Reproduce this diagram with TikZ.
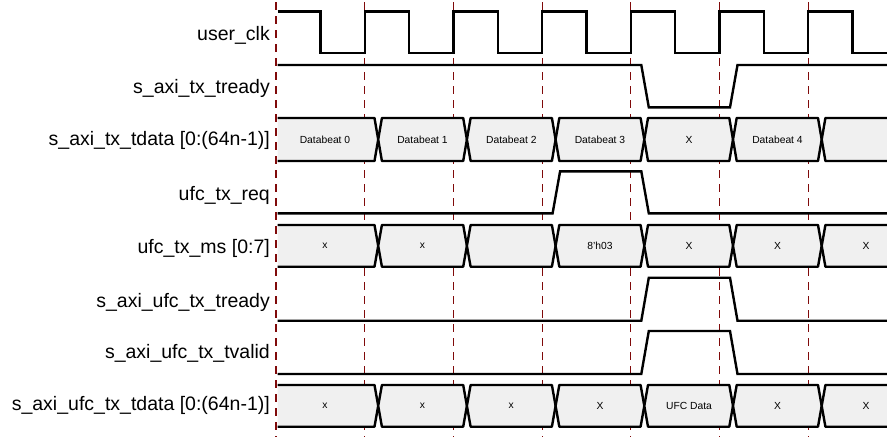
\documentclass[tikz,border=0pt]{standalone}
\usepackage{fontspec}
\setmainfont{Liberation Sans}
\definecolor{busgray}{RGB}{240,240,240}
\definecolor{gridred}{RGB}{128,10,10}
\newcommand\busrow[2]{%
  \pgfmathsetmacro\bm{(#1+#2)/2}%
  \filldraw[bus] (277.7,#1) -- (374.5,#1) -- (378.2,\bm) -- (374.5,#2) -- (277.7,#2);
  \foreach \a/\b in {378.2/466.9, 466.9/555.6, 555.6/644.3, 644.3/733, 733/821.7}
    \filldraw[bus] (\a,\bm) -- (\a+3.7,#1) -- (\b-3.7,#1) -- (\b,\bm) -- (\b-3.7,#2) -- (\a+3.7,#2) -- cycle;
  \filldraw[bus] (887,#1) -- (825.4,#1) -- (821.7,\bm) -- (825.4,#2) -- (887,#2);
}
\begin{document}
\begin{tikzpicture}[x=1pt,y=-1pt,
  sig/.style={line width=2.4pt, line join=miter, draw=black},
  bus/.style={line width=2.4pt, fill=busgray, draw=black, line join=round},
  gridline/.style={draw=gridred, line width=1.2pt, dash pattern=on 8pt off 6pt},
  lbl/.style={anchor=base east, font=\fontsize{19.5}{22}\selectfont, inner sep=0pt},
  val/.style={font=\fontsize{10.3}{12}\selectfont, inner sep=0pt}]
\useasboundingbox (0,0) rectangle (887,437);
% clock-edge grid
\foreach \i in {0,...,6}
  \draw[gridline] ({276+88.7*\i},2) -- ({276+88.7*\i},437);
% labels
\node[lbl] (lclk) at (270,40.5) {user\_clk};
\node[lbl] (ltrdy) at (270,93.5) {s\_axi\_tx\_tready};
\node[lbl] (ltdata) at (270,145.5) {s\_axi\_tx\_tdata [0:(64n-1)]};
\node[lbl] (lreq) at (270,200.5) {ufc\_tx\_req};
\node[lbl] (lms) at (270,253.8) {ufc\_tx\_ms [0:7]};
\node[lbl] (lutrdy) at (270,307.2) {s\_axi\_ufc\_tx\_tready};
\node[lbl] (lutval) at (270,358.8) {s\_axi\_ufc\_tx\_tvalid};
\node[lbl] (lutdata) at (270,410.5) {s\_axi\_ufc\_tx\_tdata [0:(64n-1)]};
% user_clk
\draw[sig] (277.7,11.3) -- (320.3,11.3) -- (320.3,53) -- (364.7,53) -- (364.7,11.3)
  -- (409,11.3) -- (409,53) -- (453.4,53) -- (453.4,11.3)
  -- (497.7,11.3) -- (497.7,53) -- (542.1,53) -- (542.1,11.3)
  -- (586.4,11.3) -- (586.4,53) -- (630.8,53) -- (630.8,11.3)
  -- (675.1,11.3) -- (675.1,53) -- (719.5,53) -- (719.5,11.3)
  -- (763.8,11.3) -- (763.8,53) -- (808.2,53) -- (808.2,11.3)
  -- (852.5,11.3) -- (852.5,53) -- (887,53);
% s_axi_tx_tready
\draw[sig] (277.7,65) -- (641.3,65) -- (648.8,107.3) -- (730,107.3) -- (737.5,65) -- (887,65);
% s_axi_tx_tdata
\busrow{118}{161}
\node[val] (d0) at (325,139.5) {Databeat 0};
\node[val] (d1) at (422.5,139.5) {Databeat 1};
\node[val] (d2) at (511.3,139.5) {Databeat 2};
\node[val] (d3) at (600,139.5) {Databeat 3};
\node[val] (d4) at (689,139.5) {X};
\node[val] (d5) at (777.5,139.5) {Databeat 4};
% ufc_tx_req
\draw[sig] (277.7,213.3) -- (552.6,213.3) -- (560.1,171.3) -- (641.3,171.3) -- (648.8,213.3) -- (887,213.3);
% ufc_tx_ms
\busrow{225}{266.7}
\node[val] (m0) at (325,245.9) {x};
\node[val] (m1) at (422.5,245.9) {x};
\node[val] (m3) at (600,245.9) {8'h03};
\node[val] (m4) at (689,245.9) {X};
\node[val] (m5) at (777.5,245.9) {X};
\node[val] (m6) at (866,245.9) {X};
% s_axi_ufc_tx_tready
\draw[sig] (277.7,320.7) -- (641.3,320.7) -- (648.8,277.7) -- (730,277.7) -- (737.5,320.7) -- (887,320.7);
% s_axi_ufc_tx_tvalid
\draw[sig] (277.7,374) -- (641.3,374) -- (648.8,331) -- (730,331) -- (737.5,374) -- (887,374);
% s_axi_ufc_tx_tdata
\busrow{385}{426.7}
\node[val] (u0) at (325,405.9) {x};
\node[val] (u1) at (422.5,405.9) {x};
\node[val] (u2) at (511.3,405.9) {x};
\node[val] (u3) at (600,405.9) {X};
\node[val] (u4) at (689,405.9) {UFC Data};
\node[val] (u5) at (777.5,405.9) {X};
\node[val] (u6) at (866,405.9) {X};
\end{tikzpicture}
\end{document}
